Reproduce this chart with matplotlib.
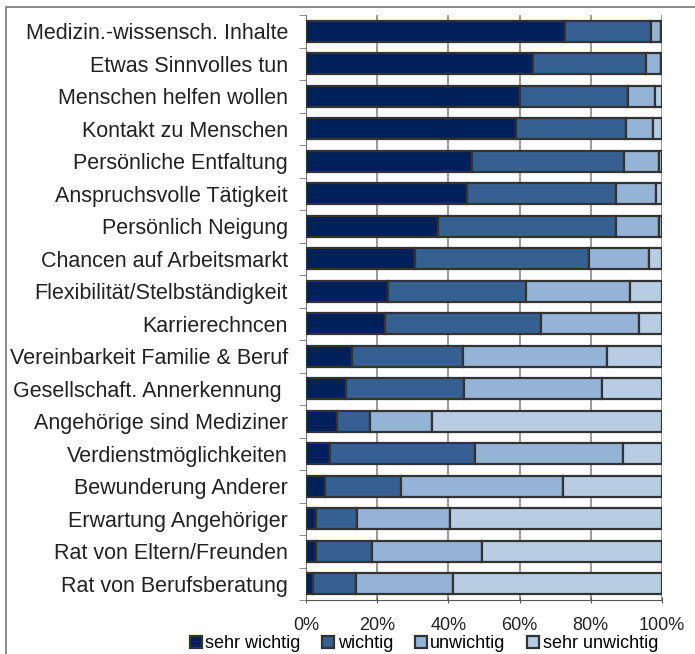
import numpy as np
import matplotlib
matplotlib.use("Agg")
import matplotlib.pyplot as plt
from matplotlib.patches import Rectangle, Patch

plt.rcParams['font.family'] = ['Liberation Sans', 'DejaVu Sans']

# Kategorien (von oben nach unten)
categories = [
    "Medizin.-wissensch. Inhalte", "Etwas Sinnvolles tun", "Menschen helfen wollen",
    "Kontakt zu Menschen", "Persönliche Entfaltung", "Anspruchsvolle Tätigkeit",
    "Persönlich Neigung", "Chancen auf Arbeitsmarkt", "Flexibilität/Stelbständigkeit",
    "Karrierechncen", "Vereinbarkeit Familie & Beruf", "Gesellschaft. Annerkennung ",
    "Angehörige sind Mediziner", "Verdienstmöglichkeiten", "Bewunderung Anderer",
    "Erwartung Angehöriger", "Rat von Eltern/Freunden", "Rat von Berufsberatung",
]

# Anteile in Prozent
sehr_wichtig = [72.8, 63.9, 60.2, 59.0, 46.7, 45.2, 37.0, 30.6, 23.1, 22.3,
                12.9, 11.1, 8.6, 6.7, 5.3, 2.8, 2.8, 2.1]
wichtig = [24.2, 31.7, 30.2, 31.0, 42.6, 42.0, 50.2, 48.9, 38.8, 43.8,
           31.1, 33.3, 9.4, 40.7, 21.3, 11.5, 15.8, 12.0]
unwichtig = [2.6, 4.2, 7.7, 7.5, 9.9, 11.2, 12.0, 16.8, 29.2, 27.4,
             40.5, 38.8, 17.3, 41.6, 45.6, 26.2, 30.9, 27.1]
sehr_unwichtig = [0.4, 0.2, 1.9, 2.5, 0.8, 1.6, 0.8, 3.7, 8.9, 6.5,
                  15.5, 16.8, 64.7, 11.0, 27.8, 59.5, 50.5, 58.8]

series = [sehr_wichtig, wichtig, unwichtig, sehr_unwichtig]
names = ["sehr wichtig", "wichtig", "unwichtig", "sehr unwichtig"]
colors = ["#00205c", "#366092", "#95b3d7", "#b8cce4"]
edge = "#333333"
fs = 15.5     # Kategorien
fs_small = 13  # Achse und Legende

fig = plt.figure(figsize=(6.95, 6.54), dpi=100)
ax = fig.add_axes([306 / 695, 54 / 654, 356 / 695, 585 / 654])

y = np.arange(len(categories))
left = np.zeros(len(categories))
for vals, c in zip(series, colors):
    ax.barh(y, vals, left=left, height=0.64, color=c, edgecolor=edge,
            linewidth=1.6, zorder=3)
    left += np.array(vals)

ax.set_xlim(0, 100)
ax.set_ylim(len(categories) - 0.5, -0.5)
ax.set_xticks(range(0, 101, 20))
ax.set_xticklabels([f"{v}%" for v in range(0, 101, 20)], fontsize=fs_small, color="#222222")
ax.set_yticks(y)
ax.set_yticklabels(categories, fontsize=fs, color="#222222")
ax.set_yticks(np.arange(-0.5, len(categories), 1), minor=True)
ax.tick_params(axis='y', which='major', length=0, pad=13)
ax.tick_params(axis='y', which='minor', length=5, color="#777777", direction='out')
ax.tick_params(axis='x', length=5, color="#555555", direction='inout', pad=10)
ax.grid(axis='x', color="#888888", linewidth=1.2, zorder=0)

for s in ['top', 'right']:
    ax.spines[s].set_visible(False)
ax.spines['left'].set_color("#777777")
ax.spines['bottom'].set_color("#555555")

handles = [Patch(facecolor=c, edgecolor=edge, linewidth=1.6) for c in colors]
fig.legend(handles, names, loc='center left', bbox_to_anchor=(190 / 695, 1 - 644 / 654),
           ncol=4, frameon=False, fontsize=fs_small, handlelength=0.65, handleheight=0.65,
           handletextpad=0.2, columnspacing=1.2, borderpad=0, borderaxespad=0)

# Rahmen um die Grafik
fig.patches.append(Rectangle((6 / 695, -0.01), 1.0, 1 - 7 / 654 + 0.01,
                             transform=fig.transFigure, fill=False,
                             edgecolor="#777777", linewidth=1.2))

fig.savefig("out.png", dpi=100)
